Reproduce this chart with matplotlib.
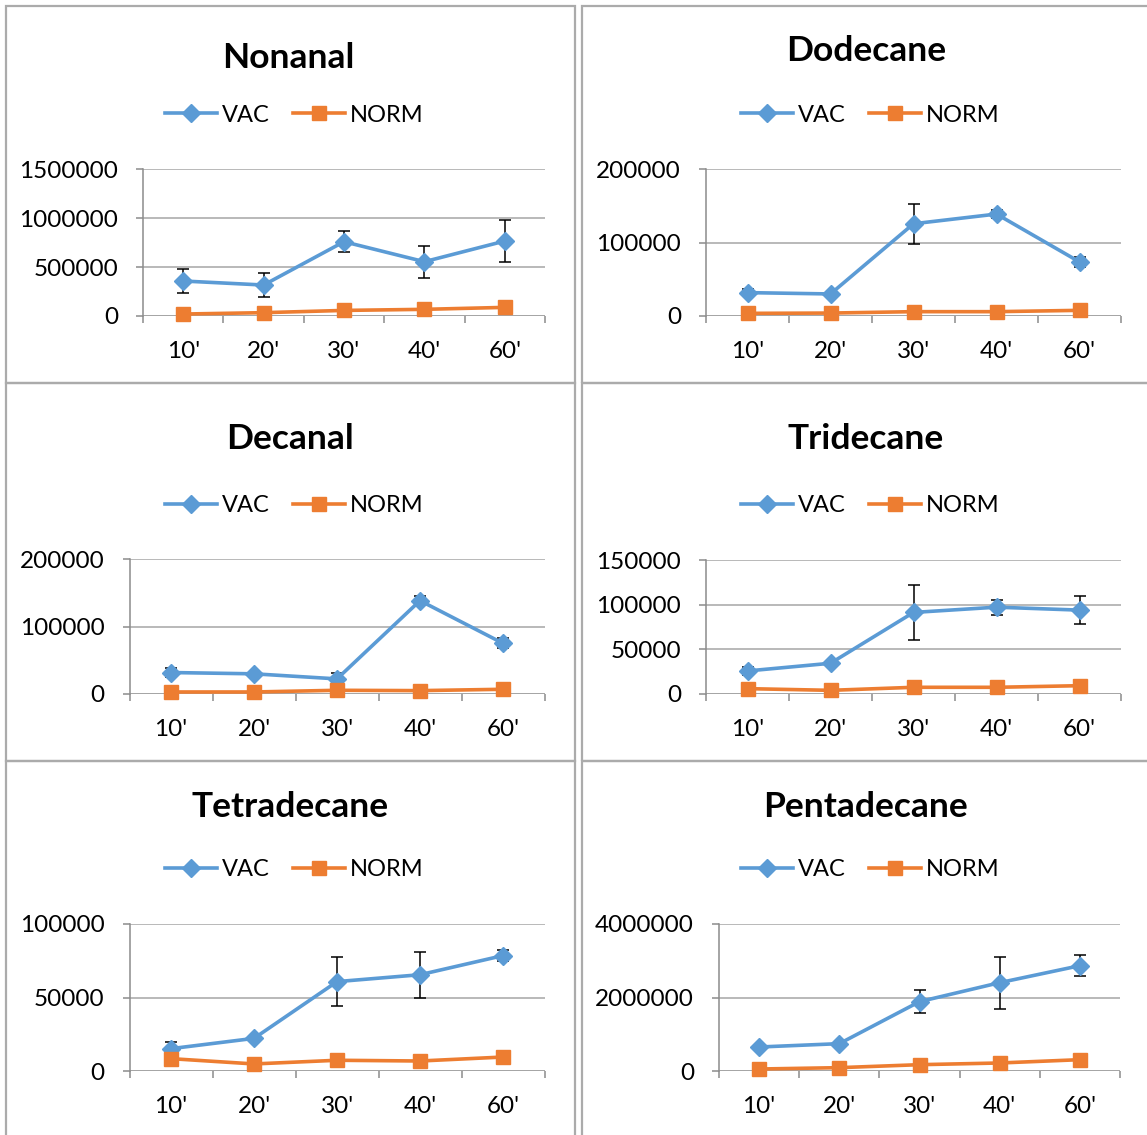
import matplotlib
matplotlib.use("Agg")
import matplotlib.pyplot as plt
from matplotlib.patches import Rectangle
from matplotlib.lines import Line2D
import numpy as np

plt.rcParams['font.family'] = ['Lato', 'DejaVu Sans']

categories = ["10'", "20'", "30'", "40'", "60'"]
series_names = ["VAC", "NORM"]

titles = ["Nonanal", "Dodecane", "Decanal", "Tridecane", "Tetradecane", "Pentadecane"]

nonanal_vac = [357000, 316000, 758000, 554000, 765000]
nonanal_err = [125000, 120000, 107000, 165000, 210000]
nonanal_norm = [20000, 34000, 57000, 68000, 88000]
nonanal_ticks = [0, 500000, 1000000, 1500000]

dodecane_vac = [31800, 30000, 125500, 138700, 73600]
dodecane_err = [4500, 0, 27000, 6000, 7000]
dodecane_norm = [3600, 4000, 5900, 5900, 7700]
dodecane_ticks = [0, 100000, 200000]

decanal_vac = [31800, 29900, 22400, 138300, 75100]
decanal_err = [6000, 0, 9000, 7000, 7500]
decanal_norm = [3000, 3000, 5500, 5000, 7000]
decanal_ticks = [0, 100000, 200000]

tridecane_vac = [25800, 34400, 91300, 97200, 93900]
tridecane_err = [4500, 0, 30600, 8500, 16000]
tridecane_norm = [6000, 4100, 7500, 7500, 9300]
tridecane_ticks = [0, 50000, 100000, 150000]

tetradecane_vac = [15200, 22200, 60800, 65500, 78500]
tetradecane_err = [4800, 0, 16600, 15500, 3700]
tetradecane_norm = [8400, 4800, 7300, 6800, 9500]
tetradecane_ticks = [0, 50000, 100000]

pentadecane_vac = [653000, 744000, 1887000, 2404000, 2866000]
pentadecane_err = [0, 0, 310000, 710000, 290000]
pentadecane_norm = [54000, 91000, 172000, 218000, 308000]
pentadecane_ticks = [0, 2000000, 4000000]

panels = [
    (nonanal_vac, nonanal_err, nonanal_norm, nonanal_ticks),
    (dodecane_vac, dodecane_err, dodecane_norm, dodecane_ticks),
    (decanal_vac, decanal_err, decanal_norm, decanal_ticks),
    (tridecane_vac, tridecane_err, tridecane_norm, tridecane_ticks),
    (tetradecane_vac, tetradecane_err, tetradecane_norm, tetradecane_ticks),
    (pentadecane_vac, pentadecane_err, pentadecane_norm, pentadecane_ticks),
]

W, H = 1147, 1135
BLUE = "#5B9BD5"
ORANGE = "#ED7D31"
GRID = "#A6A6A6"
AXIS = "#8C8C8C"
BORDER = "#ABABAB"
LABEL_SIZE = 17.5

fig = plt.figure(figsize=(W / 100, H / 100), dpi=100)
fig.patch.set_facecolor("white")

# plot-area rectangles in pixels: left, right, top, bottom
plot_boxes = [
    (143, 545, 169, 316),
    (706, 1121, 169, 316),
    (129.5, 544.5, 559, 694),
    (706, 1121, 560, 694),
    (129.5, 544.5, 924, 1071),
    (719, 1120, 924, 1071),
]
title_pos = [(288, 68), (866, 61), (290, 449), (866, 449), (290, 817), (866, 817)]
legend_pos = [(294, 115), (870, 115), (294, 506), (870, 506), (294, 870), (870, 870)]

# chart frames
frames = [(6, 575, 6, 383), (582, 1152, 6, 383),
          (6, 575, 383, 761), (582, 1152, 383, 761),
          (6, 575, 761, 1140), (582, 1152, 761, 1140)]
for x0, x1, y0, y1 in frames:
    fig.patches.append(Rectangle((x0 / W, 1 - y1 / H), (x1 - x0) / W, (y1 - y0) / H,
                                 transform=fig.transFigure, fill=False,
                                 edgecolor=BORDER, linewidth=1.6, zorder=0))

x = np.arange(len(categories))

for i, (vac, err, norm, ticks) in enumerate(panels):
    l, r, t, b = plot_boxes[i]
    ax = fig.add_axes([l / W, 1 - b / H, (r - l) / W, (b - t) / H])
    ax.set_xlim(-0.5, len(categories) - 0.5)
    ax.set_ylim(ticks[0], ticks[-1])

    for s in ["top", "right", "bottom"]:
        ax.spines[s].set_visible(False)
    ax.spines["left"].set_color(AXIS)
    ax.spines["left"].set_linewidth(1.1)

    ax.set_yticks(ticks)
    ax.set_yticklabels([str(v) for v in ticks])
    for v in ticks:
        ax.axhline(v, color=GRID if v != 0 else AXIS, linewidth=1.1, zorder=1)

    ax.set_xticks(x)
    ax.set_xticklabels(categories)
    ax.set_xticks(np.arange(len(categories) + 1) - 0.5, minor=True)
    ax.tick_params(axis="x", which="major", length=0, pad=18, labelsize=LABEL_SIZE)
    ax.tick_params(axis="x", which="minor", length=5, width=1.1, color=AXIS, direction="out")
    ax.tick_params(axis="y", length=5, width=1.1, color=AXIS, pad=13, labelsize=LABEL_SIZE)

    e = np.array(err, dtype=float)
    idx = e > 0
    ax.errorbar(x[idx], np.array(vac)[idx], yerr=e[idx], fmt="none", ecolor="black",
                elinewidth=1.1, capsize=4.5, capthick=1.1, zorder=2)
    ax.plot(x, vac, color=BLUE, linewidth=2.6, marker="D", markersize=9.5,
            markerfacecolor=BLUE, markeredgecolor=BLUE, zorder=3, clip_on=False)
    ax.plot(x, norm, color=ORANGE, linewidth=2.6, marker="s", markersize=10,
            markerfacecolor=ORANGE, markeredgecolor=ORANGE, zorder=4, clip_on=False)

    tx, ty = title_pos[i]
    fig.text(tx / W, 1 - ty / H, titles[i], ha="center", va="baseline",
             fontsize=25.5, fontweight="bold")

    handles = [Line2D([], [], color=BLUE, linewidth=2.6, marker="D", markersize=9.5),
               Line2D([], [], color=ORANGE, linewidth=2.6, marker="s", markersize=10)]
    lx, ly = legend_pos[i]
    fig.legend(handles, series_names, loc="center", bbox_to_anchor=(lx / W, 1 - ly / H),
               ncol=2, frameon=False, fontsize=17, handlelength=2.2,
               handletextpad=0.2, columnspacing=1.0, borderpad=0, numpoints=1)

fig.savefig("out.png", dpi=100, facecolor="white")
